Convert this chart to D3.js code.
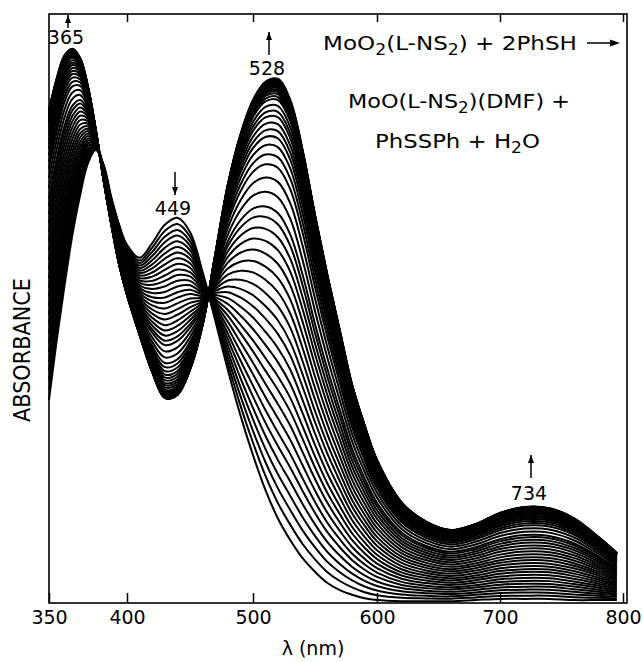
<!DOCTYPE html>
<html>
<head>
<meta charset="utf-8">
<script src="https://cdn.jsdelivr.net/npm/d3@7"></script>
<style>
  body { margin: 0; background: #fff; }
  text { font-family: "DejaVu Sans", "Liberation Sans", sans-serif; fill: #000; }
</style>
</head>
<body>
<script>
// wavelength grid (nm, as read on the chart's own axis)
const wavelengths = [350, 355, 360, 365, 370, 375, 380, 385, 390, 395, 400, 410, 420, 430, 440, 450,
  460, 470, 480, 490, 500, 510, 520, 530, 540, 550, 560, 570, 580, 590, 600, 620, 640, 660, 680,
  700, 720, 740, 760, 780, 795];

// first scan, MoO2(L-NS2) (relative absorbance, 0 = bottom, 1 = top of frame)
const firstScan = [0.345, 0.447, 0.540, 0.625, 0.693, 0.747, 0.769, 0.744, 0.688, 0.642, 0.608, 0.586,
  0.611, 0.642, 0.654, 0.630, 0.562, 0.480, 0.396, 0.319, 0.251, 0.192, 0.144, 0.107, 0.076, 0.053,
  0.034, 0.022, 0.014, 0.008, 0.005, 0.003, 0.003, 0.003, 0.005, 0.007, 0.007, 0.007, 0.005, 0.005, 0.005];

// last scan, MoO(L-NS2)(DMF)
const lastScan = [0.837, 0.891, 0.930, 0.941, 0.925, 0.876, 0.803, 0.718, 0.642, 0.574, 0.523, 0.455,
  0.392, 0.348, 0.353, 0.396, 0.472, 0.591, 0.710, 0.795, 0.854, 0.885, 0.890, 0.854, 0.769, 0.659,
  0.557, 0.463, 0.370, 0.302, 0.243, 0.171, 0.138, 0.124, 0.134, 0.153, 0.163, 0.161, 0.144, 0.112, 0.085];

// absorbance at 520 nm of every scan, first to last
const scanA520 = [0.144, 0.170, 0.195, 0.219, 0.243, 0.267, 0.290, 0.314, 0.338, 0.362, 0.385, 0.409,
  0.433, 0.457, 0.480, 0.504, 0.528, 0.552, 0.576, 0.599, 0.621, 0.643, 0.662, 0.689, 0.715, 0.739,
  0.757, 0.774, 0.789, 0.801, 0.813, 0.825, 0.834, 0.844, 0.854, 0.859, 0.864, 0.868, 0.871, 0.874,
  0.877, 0.879, 0.881, 0.883, 0.885, 0.886, 0.887, 0.888, 0.889, 0.890];

const axisTicks = [350, 400, 500, 600, 700, 800];

const width = 643, height = 662;
const frameL = 49, frameR = 627, frameT = 14, frameB = 603;

const svg = d3.select("body").append("svg")
  .attr("width", width)
  .attr("height", height);

// the recorder's wavelength scale is not quite linear below 400 nm
const x = d3.scaleLinear()
  .domain([350, 400, 500, 600, 700, 800])
  .range([frameL, 127, 253, 377, 500, 623]);

const y = d3.scaleLinear()
  .domain([0, 1])
  .range([frameB, frameT]);

// each scan as a mix of the first and last spectra, weighted by its 520 nm reading
const i520 = wavelengths.indexOf(520);
const a0 = firstScan[i520], a1 = lastScan[i520];
const scans = scanA520.map(a => {
  const f = (a - a0) / (a1 - a0);
  return wavelengths.map((w, j) => ({ w: w, a: firstScan[j] + f * (lastScan[j] - firstScan[j]) }));
});

const line = d3.line()
  .x(d => x(d.w))
  .y(d => y(d.a))
  .curve(d3.curveCatmullRom.alpha(0.5));

svg.append("g")
  .selectAll("path")
  .data(scans)
  .enter()
  .append("path")
  .attr("d", line)
  .attr("fill", "none")
  .attr("stroke", "#000")
  .attr("stroke-width", 2);

// frame
svg.append("rect")
  .attr("x", frameL)
  .attr("y", frameT)
  .attr("width", frameR - frameL)
  .attr("height", frameB - frameT)
  .attr("fill", "none")
  .attr("stroke", "#000")
  .attr("stroke-width", 1.6);

// bottom axis, ticks pointing in
const xAxis = svg.append("g")
  .attr("transform", `translate(0,${frameB})`)
  .call(d3.axisBottom(x).tickValues(axisTicks).tickSize(-10).tickPadding(8).tickFormat(d3.format("d")));
xAxis.select(".domain").remove();
xAxis.selectAll("line").attr("stroke-width", 1.5);
xAxis.selectAll("text")
  .style("font-family", '"DejaVu Sans", sans-serif')
  .style("font-size", "19px")
  .attr("fill", "#000");

// top axis, ticks only
const topAxis = svg.append("g")
  .attr("transform", `translate(0,${frameT})`)
  .call(d3.axisTop(x).tickValues(axisTicks.slice(1)).tickSize(-8).tickFormat(""));
topAxis.select(".domain").remove();
topAxis.selectAll("line").attr("stroke-width", 1.5);

svg.append("text")
  .attr("x", 313)
  .attr("y", 655)
  .attr("text-anchor", "middle")
  .style("font-size", "19px")
  .text("λ (nm)");

svg.append("text")
  .attr("transform", "translate(30,350) rotate(-90)")
  .attr("text-anchor", "middle")
  .attr("textLength", 144)
  .attr("lengthAdjust", "spacingAndGlyphs")
  .style("font-size", "23px")
  .text("ABSORBANCE");

// peak labels with arrows showing the direction of change
const peakNames = ["365", "449", "528", "734"];
const peakDirs = ["up", "down", "up", "up"];
const peakSpots = [[68, 44, 15, 28], [175, 215, 195, 172], [269, 75, 32, 55], [531, 500, 455, 478]];

peakNames.forEach((name, i) => {
  const [px, py, tip, tail] = peakSpots[i];
  svg.append("text")
    .attr("x", px - 2)
    .attr("y", py)
    .attr("text-anchor", "middle")
    .style("font-size", "19px")
    .text(name);
  svg.append("line")
    .attr("x1", px).attr("x2", px)
    .attr("y1", tail).attr("y2", tip)
    .attr("stroke", "#000")
    .attr("stroke-width", 1.5);
  const s = peakDirs[i] === "up" ? 1 : -1;
  svg.append("path")
    .attr("d", `M${px},${tip} L${px - 3},${tip + s * 8} L${px + 3},${tip + s * 8} Z`)
    .attr("fill", "#000");
});

// reaction text, each line stretched to the width it has in the figure
function reactionLine(xp, yp, parts, w) {
  const t = svg.append("text").attr("x", xp).attr("y", yp).style("font-size", "20px");
  let down = false;
  parts.forEach(p => {
    const sub = p.startsWith("_");
    const ts = t.append("tspan").text(sub ? p.slice(1) : p);
    if (sub && !down) { ts.attr("dy", 5).style("font-size", "15px"); down = true; }
    else if (!sub && down) { ts.attr("dy", -5); down = false; }
  });
  const k = w / t.node().getBBox().width;
  t.attr("transform", `translate(${xp},0) scale(${k},1) translate(${-xp},0)`);
  return t;
}

reactionLine(323, 50, ["MoO", "_2", "(L-NS", "_2", ") + 2PhSH"], 254);
svg.append("line")
  .attr("x1", 587).attr("x2", 614)
  .attr("y1", 43).attr("y2", 43)
  .attr("stroke", "#000").attr("stroke-width", 1.5);
svg.append("path")
  .attr("d", "M620,43 L610,39.5 L610,46.5 Z")
  .attr("fill", "#000");
reactionLine(348, 108, ["MoO(L-NS", "_2", ")(DMF) +"], 222);
reactionLine(375, 148, ["PhSSPh + H", "_2", "O"], 165);
</script>
</body>
</html>
